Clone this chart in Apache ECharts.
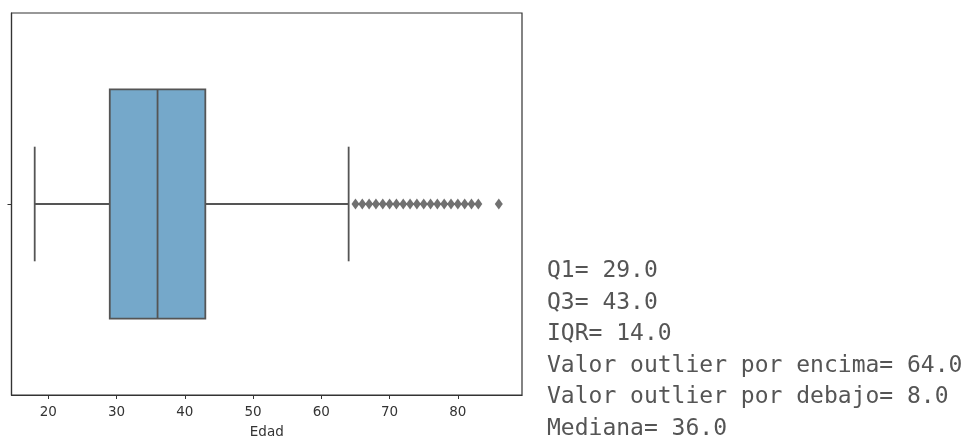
<!DOCTYPE html>
<html>
<head>
<meta charset="utf-8">
<title>Edad boxplot</title>
<script src="https://cdn.jsdelivr.net/npm/echarts@6.0.0/dist/echarts.min.js"></script>
<style>
    html, body { margin: 0; padding: 0; background: #fff; }
    #chart { width: 969px; height: 440px; }
</style>
</head>
<body>
<div id="chart"></div>
<script>
    // resumen de la columna Edad: [bigote inferior, Q1, mediana, Q3, bigote superior]
    const boxStats = [18, 29, 36, 43, 64]
    // valores atipicos por encima del bigote
    const outliers = [65, 66, 67, 68, 69, 70, 71, 72, 73, 74, 75, 76, 77, 78, 79, 80, 81, 82, 83, 86]
    const xTicks = [20, 30, 40, 50, 60, 70, 80]
    const statLines = [
        'Q1= 29.0',
        'Q3= 43.0',
        'IQR= 14.0',
        'Valor outlier por encima= 64.0',
        'Valor outlier por debajo= 8.0',
        'Mediana= 36.0'
    ]

    const lineColor = '#555555'
    const boxColor = '#75a8ca'

    const myChart = echarts.init(document.getElementById('chart'), null, { renderer: 'canvas' })

    function renderBox(params, api) {
        const y = api.value(0)
        const lo = api.value(1), q1 = api.value(2), med = api.value(3), q3 = api.value(4), hi = api.value(5)
        const p = (x, dy) => api.coord([x, y + dy])
        const a = p(q1, 0.3), b = p(q3, -0.3)
        const line = (s, e) => ({
            type: 'line',
            shape: { x1: s[0], y1: s[1], x2: e[0], y2: e[1] },
            style: { stroke: lineColor, lineWidth: 1.8 }
        })
        return {
            type: 'group',
            children: [
                line(p(lo, 0), p(q1, 0)),
                line(p(q3, 0), p(hi, 0)),
                line(p(lo, 0.15), p(lo, -0.15)),
                line(p(hi, 0.15), p(hi, -0.15)),
                {
                    type: 'rect',
                    shape: { x: a[0], y: a[1], width: b[0] - a[0], height: b[1] - a[1] },
                    style: { fill: boxColor, stroke: lineColor, lineWidth: 1.8 }
                },
                line(p(med, 0.3), p(med, -0.3))
            ]
        }
    }

    const options = {
        animation: false,
        backgroundColor: '#fff',
        grid: {
            left: 11.5,
            top: 13,
            right: 447,
            bottom: 45,
            outerBoundsMode: 'none',
            containLabel: false,
            show: true,
            borderColor: '#333',
            borderWidth: 1.2,
            backgroundColor: 'transparent'
        },
        xAxis: {
            type: 'value',
            min: 14.6,
            max: 89.4,
            name: 'Edad',
            nameLocation: 'middle',
            nameGap: 30,
            nameTextStyle: { color: '#333', fontSize: 13.5, fontFamily: 'DejaVu Sans' },
            axisLine: { show: true, onZero: false, lineStyle: { color: '#333', width: 1.2 } },
            axisTick: { show: true, customValues: xTicks, length: 4, lineStyle: { color: '#333', width: 1 } },
            axisLabel: { customValues: xTicks, margin: 10, color: '#333', fontSize: 13.5, fontFamily: 'DejaVu Sans' },
            splitLine: { show: false }
        },
        yAxis: {
            type: 'value',
            min: -0.5,
            max: 0.5,
            axisLine: { show: true, onZero: false, lineStyle: { color: '#333', width: 1.2 } },
            axisTick: { show: true, customValues: [0], length: 4, lineStyle: { color: '#333', width: 1 } },
            axisLabel: { show: false },
            splitLine: { show: false }
        },
        series: [
            {
                type: 'custom',
                renderItem: renderBox,
                encode: { x: [1, 2, 3, 4, 5], y: 0 },
                data: [[0].concat(boxStats)],
                z: 2
            },
            {
                type: 'scatter',
                symbol: 'diamond',
                symbolSize: [8, 11],
                itemStyle: { color: '#4d4d4d' },
                data: outliers.map(v => [v, 0]),
                z: 3
            }
        ],
        graphic: statLines.map((t, i) => ({
            type: 'text',
            x: 547,
            y: 271.5 + i * 31.5,
            style: {
                text: t,
                fill: '#555',
                font: '23px "DejaVu Sans Mono"',
                verticalAlign: 'middle',
                align: 'left'
            }
        }))
    }

    myChart.setOption(options)
    window.addEventListener('resize', myChart.resize)
</script>
</body>
</html>
